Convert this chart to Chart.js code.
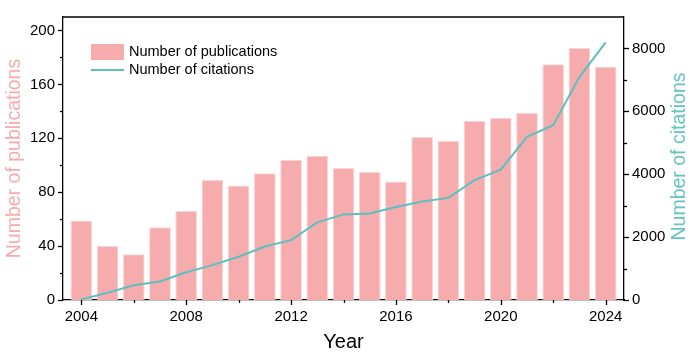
<!DOCTYPE html>
<html>
<head>
<meta charset="utf-8">
<script src="https://cdn.jsdelivr.net/npm/chart.js@4.4.1/dist/chart.umd.min.js"></script>
<style>
  html, body { margin: 0; padding: 0; background: #fff; }
  #wrap { width: 700px; height: 356px; position: relative; }
</style>
</head>
<body>
<div id="wrap"><canvas id="c"></canvas></div>
<script>
const years = [2004, 2005, 2006, 2007, 2008, 2009, 2010, 2011, 2012, 2013, 2014,
               2015, 2016, 2017, 2018, 2019, 2020, 2021, 2022, 2023, 2024];
const publications = [59, 40, 34, 54, 66, 89, 85, 94, 104, 107, 98,
                      95, 88, 121, 118, 133, 135, 139, 175, 187, 173];
const citations = [20, 230, 470, 590, 880, 1110, 1375, 1700, 1905, 2470, 2722,
                   2752, 2960, 3132, 3248, 3810, 4145, 5190, 5560, 7090, 8190];
const yearTicks = [2004, 2008, 2012, 2016, 2020, 2024];
const pubTicks = [0, 40, 80, 120, 160, 200];
const citTicks = [0, 2000, 4000, 6000, 8000];

const seriesNames = ['Number of publications', 'Number of citations'];
const axisTitles = { x: 'Year', left: 'Number of publications', right: 'Number of citations' };

const BAR_COLOR = 'rgb(246,171,172)';
const BAR_EDGE = 'rgb(252,214,214)';
const LINE_COLOR = 'rgb(92,192,192)';
const LEFT_TITLE_COLOR = 'rgb(246,171,172)';
const RIGHT_TITLE_COLOR = 'rgb(100,196,196)';
const FONT = 'Arial, "Liberation Sans", sans-serif';

const setTicks = (vals) => (scale) => { scale.ticks = vals.map(v => ({ value: v })); };

const framePlugin = {
  id: 'frame',
  afterDraw(chart) {
    const ctx = chart.ctx;
    const a = chart.chartArea;
    ctx.save();
    ctx.strokeStyle = '#000';
    ctx.lineWidth = 1.3;
    ctx.beginPath();
    ctx.moveTo(a.left, a.top);
    ctx.lineTo(a.right, a.top);
    ctx.stroke();
    const drawTicks = (scale, vals, side) => {
      const all = [];
      vals.forEach((v, i) => {
        all.push({ v, major: true });
        if (i < vals.length - 1) all.push({ v: (v + vals[i + 1]) / 2, major: false });
      });
      all.forEach(t => {
        const p = Math.round(scale.getPixelForValue(t.v)) + 0.5;
        const len = t.major ? 5 : 3;
        ctx.beginPath();
        if (side === 'bottom') { ctx.moveTo(p, a.bottom); ctx.lineTo(p, a.bottom + len); }
        else if (side === 'left') { ctx.moveTo(a.left, p); ctx.lineTo(a.left - len, p); }
        else { ctx.moveTo(a.right, p); ctx.lineTo(a.right + len, p); }
        ctx.stroke();
      });
    };
    drawTicks(chart.scales.x, yearTicks, 'bottom');
    drawTicks(chart.scales.y, pubTicks, 'left');
    drawTicks(chart.scales.y1, citTicks, 'right');

    ctx.fillStyle = RIGHT_TITLE_COLOR;
    ctx.font = '19.5px ' + FONT;
    ctx.textAlign = 'center';
    ctx.textBaseline = 'middle';
    ctx.translate(680, (a.top + a.bottom) / 2 - 2);
    ctx.rotate(-Math.PI / 2);
    ctx.fillText(axisTitles.right, 0, 0);
    ctx.restore();

    ctx.save();
    const lx = a.left + 28, ly = a.top + 27;
    ctx.fillStyle = BAR_COLOR;
    ctx.fillRect(lx, ly, 33, 16);
    ctx.strokeStyle = LINE_COLOR;
    ctx.lineWidth = 2;
    ctx.beginPath();
    ctx.moveTo(lx, ly + 26);
    ctx.lineTo(lx + 33, ly + 26);
    ctx.stroke();
    ctx.fillStyle = '#000';
    ctx.font = '14.5px ' + FONT;
    ctx.textAlign = 'left';
    ctx.textBaseline = 'middle';
    ctx.fillText(seriesNames[0], lx + 38, ly + 8);
    ctx.fillText(seriesNames[1], lx + 38, ly + 26);
    ctx.restore();
  }
};

new Chart(document.getElementById('c'), {
  data: {
    datasets: [
      {
        type: 'line',
        label: seriesNames[1],
        data: years.map((y, i) => ({ x: y, y: citations[i] })),
        yAxisID: 'y1',
        borderColor: LINE_COLOR,
        borderWidth: 2,
        pointRadius: 0,
        tension: 0,
        order: 0
      },
      {
        type: 'bar',
        label: seriesNames[0],
        data: years.map((y, i) => ({ x: y, y: publications[i] })),
        yAxisID: 'y',
        backgroundColor: BAR_COLOR,
        borderColor: BAR_EDGE,
        borderWidth: 1,
        categoryPercentage: 1,
        barPercentage: 0.83,
        order: 1
      }
    ]
  },
  options: {
    responsive: true,
    maintainAspectRatio: false,
    animation: false,
    layout: { padding: { top: 6, left: 0, right: 0, bottom: 0 } },
    plugins: { legend: { display: false }, tooltip: { enabled: false } },
    scales: {
      x: {
        type: 'linear',
        position: 'bottom',
        offset: false,
        min: 2003.3,
        max: 2024.7,
        afterBuildTicks: setTicks(yearTicks),
        afterFit: (s) => { s.height = 56; },
        grid: { display: false, offset: false, drawTicks: false },
        border: { display: true, color: '#000', width: 1.3 },
        ticks: { color: '#000', font: { size: 15, family: FONT }, padding: 8, autoSkip: false, maxRotation: 0,
                 callback: (v) => String(v) },
        title: { display: true, text: axisTitles.x, color: '#000', font: { size: 20, family: FONT }, padding: { top: 0, bottom: 2 } }
      },
      y: {
        type: 'linear',
        position: 'left',
        min: 0,
        max: 210,
        afterBuildTicks: setTicks(pubTicks),
        afterFit: (s) => { s.width = 63; },
        grid: { display: false, drawTicks: false },
        border: { display: true, color: '#000', width: 1.3 },
        ticks: { color: '#000', font: { size: 15, family: FONT }, padding: 8 },
        title: { display: true, text: axisTitles.left, color: LEFT_TITLE_COLOR, font: { size: 19.5, family: FONT }, padding: { top: 3, bottom: 0 } }
      },
      y1: {
        type: 'linear',
        position: 'right',
        min: 0,
        max: 9000,
        afterBuildTicks: setTicks(citTicks),
        afterFit: (s) => { s.width = 76; },
        grid: { display: false, drawTicks: false },
        border: { display: true, color: '#000', width: 1.3 },
        ticks: { color: '#000', font: { size: 15, family: FONT }, padding: 8, callback: (v) => String(v) }
      }
    }
  },
  plugins: [framePlugin]
});
</script>
</body>
</html>
